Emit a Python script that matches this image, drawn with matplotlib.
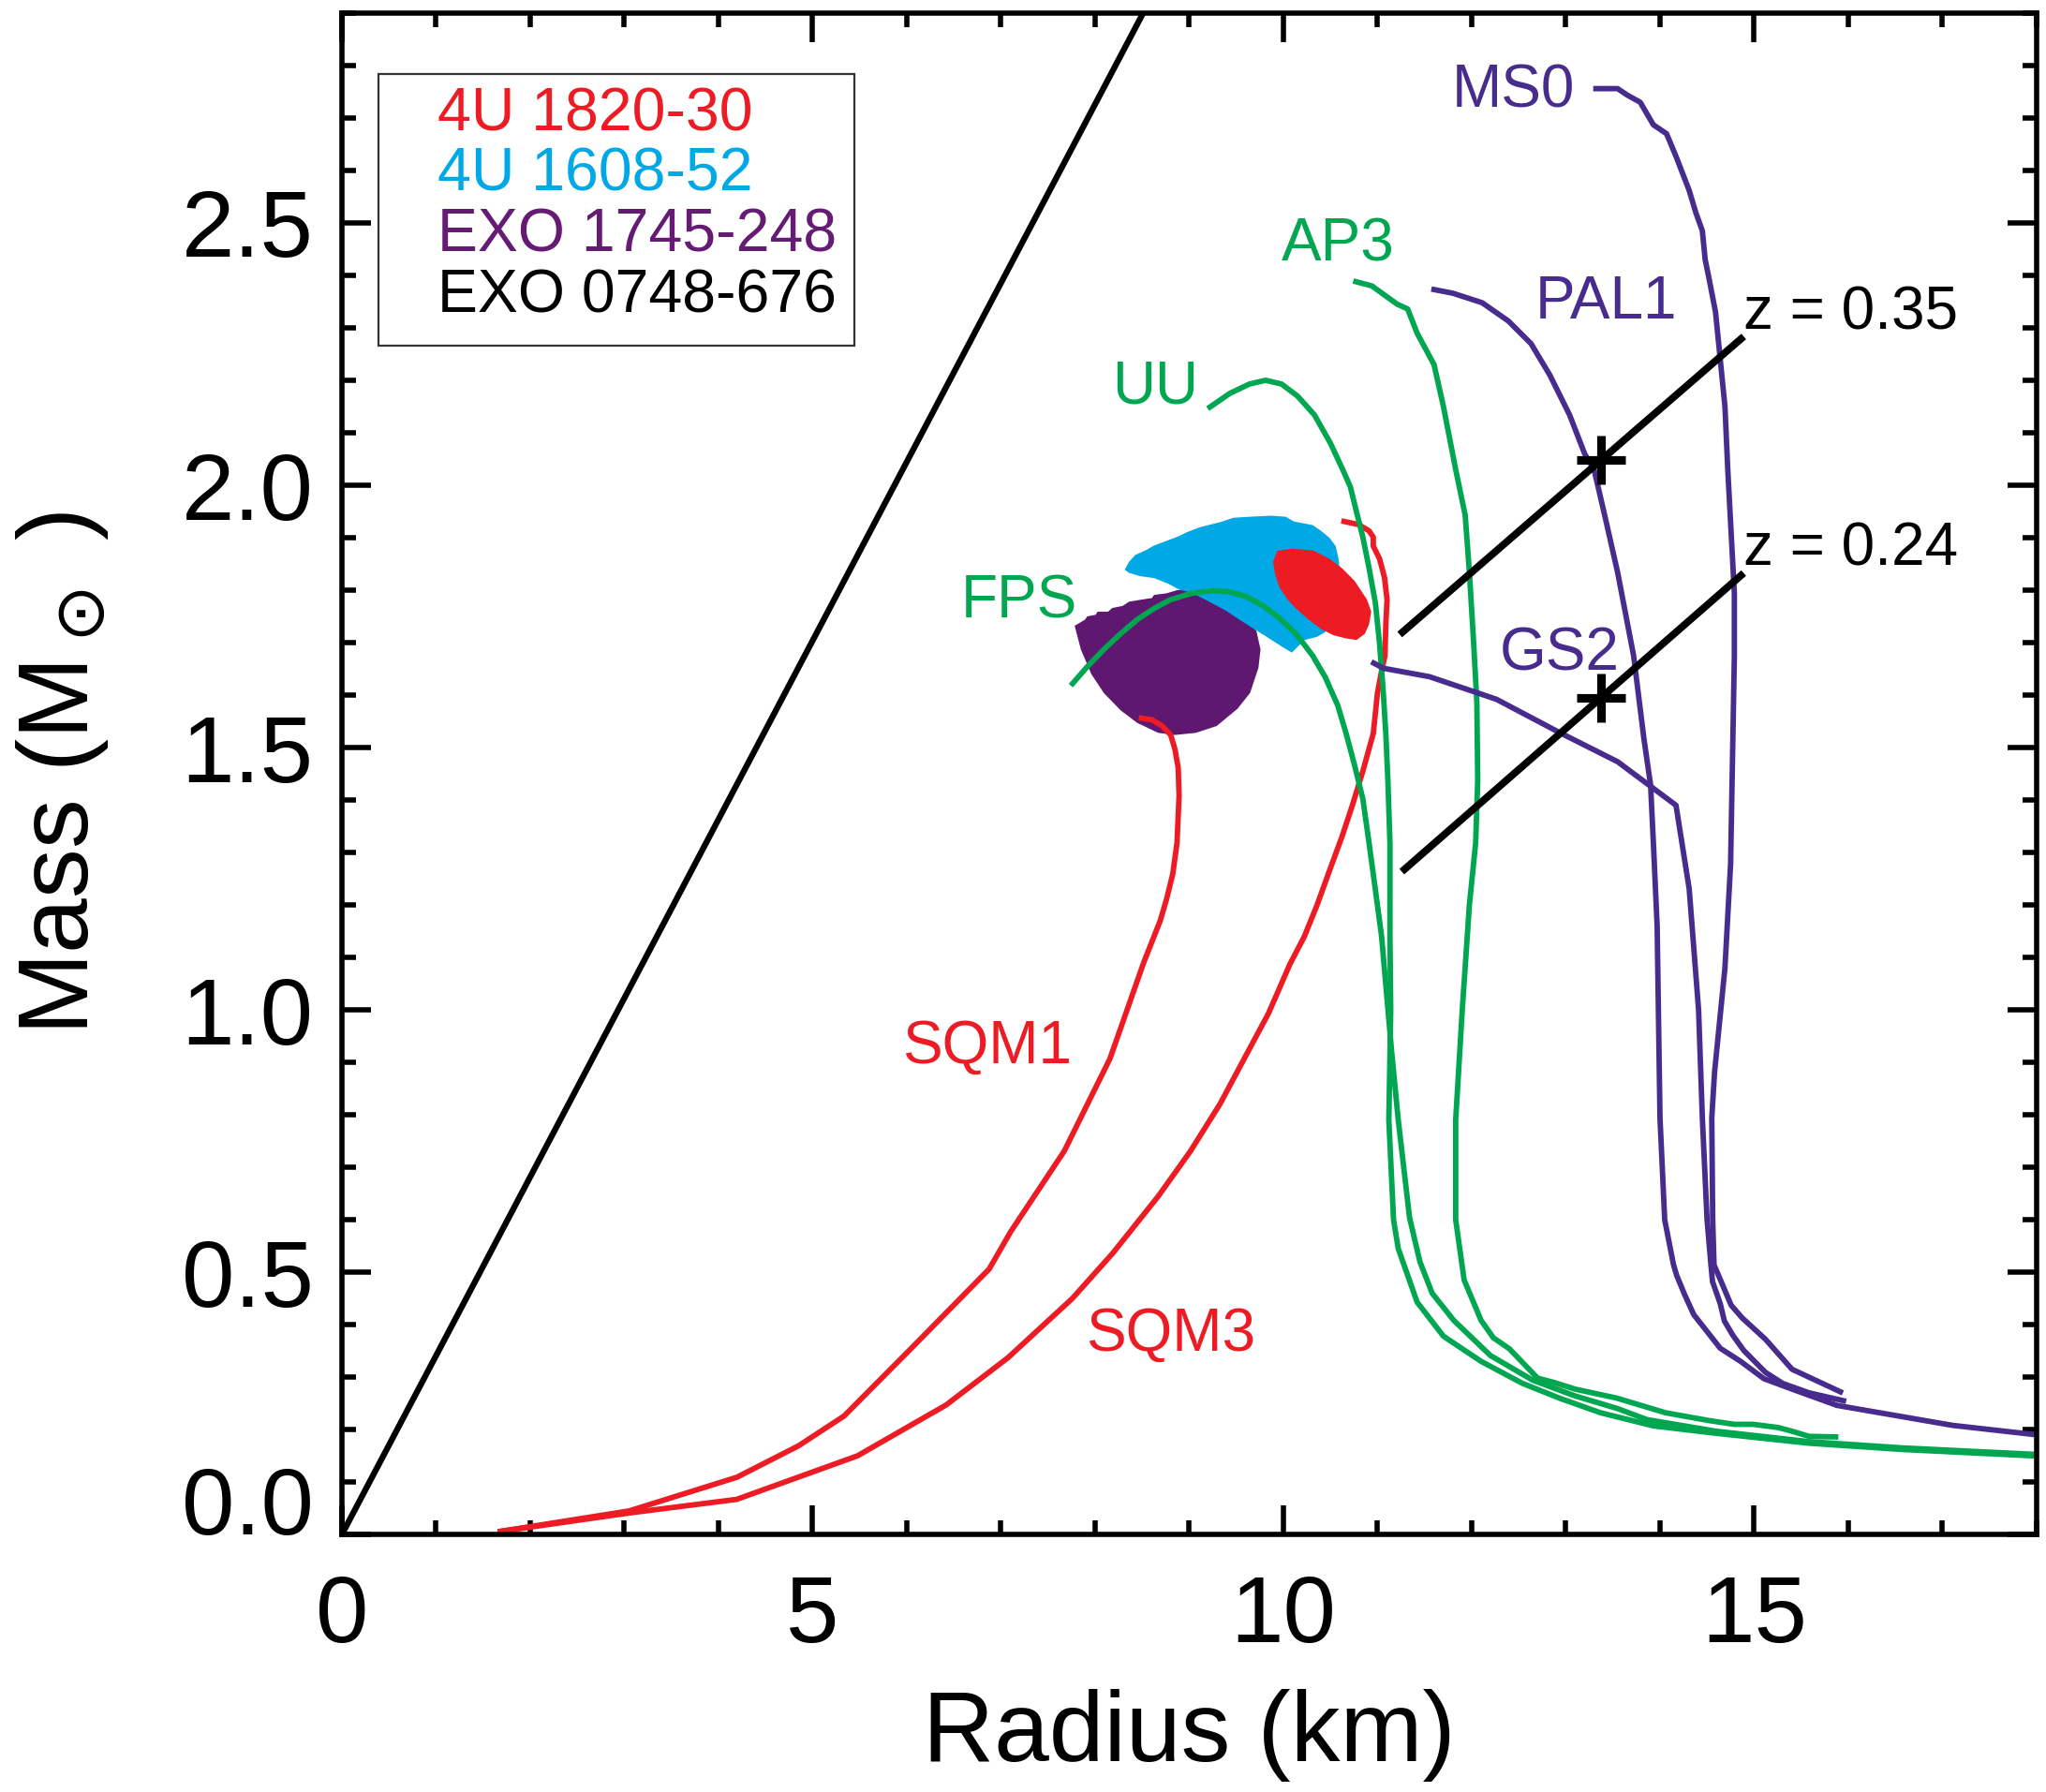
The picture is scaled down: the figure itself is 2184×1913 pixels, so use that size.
import numpy as np
import matplotlib.pyplot as plt
from matplotlib.patches import Polygon, Rectangle

plt.rcParams['font.family'] = ['Liberation Sans', 'DejaVu Sans']
plt.rcParams['mathtext.fontset'] = 'dejavusans'

RED = '#ED1C24'
BLUE = '#00A8E6'
PURPLE = '#5F1870'
INDIGO = '#472C8E'
GREEN = '#00A650'

# black limit line
r_bh = [0.0, 8.51]
m_bh = [0.0, 2.90]

# strange quark matter
r_sqm1 = [1.684, 3.053, 4.194, 4.850, 5.335, 6.076, 6.875, 7.103, 7.673, 8.158, 8.518, 8.626,
          8.692, 8.759, 8.825, 8.870, 8.892, 8.883, 8.848, 8.803, 8.714, 8.604, 8.493]
m_sqm1 = [0.006, 0.045, 0.109, 0.169, 0.226, 0.360, 0.506, 0.577, 0.731, 0.907, 1.091, 1.140,
          1.170, 1.211, 1.259, 1.318, 1.408, 1.461, 1.497, 1.524, 1.541, 1.553, 1.556]
r_sqm3 = [1.684, 3.053, 4.194, 5.477, 6.419, 7.075, 7.759, 8.187, 8.672, 9.014, 9.328, 9.584,
          9.841, 10.069, 10.223, 10.356, 10.489, 10.622, 10.733, 10.844, 10.955, 10.999, 11.043,
          11.079, 11.088, 11.101, 11.074, 11.021, 10.955, 10.955, 10.910, 10.799, 10.644]
m_sqm3 = [0.006, 0.041, 0.067, 0.150, 0.247, 0.337, 0.450, 0.536, 0.645, 0.731, 0.821, 0.907,
          0.993, 1.087, 1.140, 1.199, 1.265, 1.330, 1.390, 1.455, 1.527, 1.604, 1.646,
          1.675, 1.735, 1.782, 1.824, 1.860, 1.884, 1.901, 1.913, 1.925, 1.931]

# nucleonic
r_fps = [7.761, 7.916, 8.093, 8.271, 8.448, 8.626, 8.803, 9.025, 9.247, 9.424, 9.602, 9.779,
         9.956, 10.134, 10.311, 10.445, 10.578, 10.666, 10.755, 10.844, 10.910, 10.977, 11.043,
         11.15, 11.22, 11.34, 11.45, 11.58, 11.81, 12.20, 12.65, 13.10, 13.55, 13.86, 14.59,
         15.58, 16.58, 17.95]
m_fps = [1.622, 1.654, 1.687, 1.717, 1.744, 1.765, 1.782, 1.794, 1.799, 1.797, 1.788, 1.771,
         1.747, 1.717, 1.675, 1.634, 1.580, 1.527, 1.467, 1.402, 1.318, 1.229, 1.140,
         0.920, 0.790, 0.604, 0.520, 0.460, 0.408, 0.341, 0.294, 0.264, 0.240, 0.219, 0.197,
         0.177, 0.165, 0.153]
r_uu = [9.22, 9.43, 9.64, 9.81, 9.98, 10.15, 10.33, 10.50, 10.63, 10.711, 10.777, 10.844,
        10.910, 10.977, 11.021, 11.057, 11.088, 11.110, 11.132, 11.132, 11.14, 11.12, 11.17,
        11.22, 11.42, 11.70, 12.10, 12.54, 12.93, 13.37, 13.93, 14.59, 15.58, 16.58, 17.95]
m_uu = [2.149, 2.175, 2.193, 2.200, 2.193, 2.170, 2.134, 2.080, 2.030, 1.997, 1.949, 1.901,
        1.842, 1.776, 1.699, 1.616, 1.527, 1.437, 1.318, 1.140, 1.000, 0.790, 0.600,
        0.545, 0.443, 0.378, 0.330, 0.288, 0.260, 0.232, 0.207, 0.193, 0.174, 0.162, 0.150]
r_ap3 = [10.77, 10.94, 11.07, 11.21, 11.32, 11.42, 11.60, 11.70, 11.83, 11.931, 11.975, 12.019,
         12.055, 12.064, 12.042, 11.975, 11.953, 11.90, 11.83, 11.83, 11.92, 12.10, 12.23, 12.40,
         12.70, 12.87, 13.10, 13.54, 14.06, 14.525, 14.79, 14.988, 15.253, 15.419, 15.584, 15.866]
m_ap3 = [2.388, 2.380, 2.363, 2.345, 2.336, 2.290, 2.230, 2.150, 2.030, 1.943, 1.836, 1.705,
         1.586, 1.437, 1.318, 1.199, 1.140, 1.000, 0.790, 0.600, 0.485, 0.408, 0.375, 0.354,
         0.298, 0.290, 0.277, 0.260, 0.232, 0.217, 0.210, 0.210, 0.204, 0.196, 0.187, 0.186]

# hyperonic / kaon
r_ms0 = [13.32, 13.55, 13.65, 13.79, 13.93, 14.07, 14.17, 14.31, 14.38, 14.45, 14.48, 14.52,
         14.59, 14.64, 14.69, 14.72, 14.79, 14.79, 14.75, 14.69, 14.58, 14.55, 14.56, 14.574,
         14.657, 14.756, 14.872, 15.121, 15.402, 15.916]
m_ms0 = [2.756, 2.756, 2.744, 2.730, 2.687, 2.670, 2.627, 2.562, 2.520, 2.485, 2.430, 2.395,
         2.330, 2.240, 2.150, 2.030, 1.794, 1.675, 1.278, 1.080, 0.882, 0.794, 0.600, 0.514,
         0.479, 0.437, 0.413, 0.372, 0.315, 0.272]
r_pal1 = [11.60, 11.80, 12.11, 12.39, 12.63, 12.83, 13.04, 13.20, 13.30, 13.42, 13.55, 13.72,
          13.83, 13.90, 13.93, 13.97, 14.00, 14.05, 14.144, 14.177, 14.260, 14.359, 14.491,
          14.640, 14.856, 15.104, 15.419, 15.882, 17.108, 17.95]
m_pal1 = [2.373, 2.366, 2.348, 2.313, 2.270, 2.210, 2.134, 2.060, 2.030, 1.937, 1.834, 1.675,
          1.516, 1.429, 1.318, 1.159, 0.794, 0.600, 0.514, 0.494, 0.458, 0.419, 0.389,
          0.355, 0.330, 0.297, 0.276, 0.246, 0.208, 0.191]
r_gs2 = [10.96, 11.066, 11.553, 12.263, 12.929, 13.55, 14.17, 14.31, 14.41, 14.45, 14.50,
         14.541, 14.558, 14.640, 14.684, 14.773, 14.889, 15.021, 15.121, 15.303, 15.584, 15.949]
m_gs2 = [1.661, 1.651, 1.635, 1.592, 1.529, 1.473, 1.390, 1.231, 1.000, 0.794, 0.600,
         0.514, 0.482, 0.440, 0.407, 0.380, 0.351, 0.327, 0.309, 0.288, 0.270, 0.255]

# constant-redshift segments and crosses
r_z035 = [11.265, 14.86]
m_z035 = [1.720, 2.279]
r_z024 = [11.287, 14.86]
m_z024 = [1.268, 1.828]
r_cross = [13.37, 13.37]
m_cross = [2.048, 1.595]

# source contours
r_exo1745 = [7.783, 7.894, 7.916, 8.005, 8.027, 8.138, 8.182, 8.293, 8.360, 8.493, 8.604, 8.626,
             8.759, 8.870, 8.981, 9.114, 9.291, 9.557, 9.713, 9.757, 9.735, 9.646, 9.513, 9.291,
             9.069, 8.848, 8.670, 8.448, 8.271, 8.093, 7.960, 7.849, 7.805]
m_exo1745 = [1.732, 1.744, 1.750, 1.753, 1.759, 1.759, 1.766, 1.770, 1.778, 1.782, 1.785, 1.791,
             1.794, 1.800, 1.801, 1.794, 1.776, 1.747, 1.723, 1.687, 1.652, 1.604, 1.574, 1.541,
             1.528, 1.524, 1.528, 1.547, 1.571, 1.604, 1.640, 1.687, 1.717]
r_4u1608 = [8.315, 8.360, 8.426, 8.537, 8.626, 8.759, 8.892, 8.981, 9.114, 9.225, 9.336, 9.469,
            9.646, 9.868, 10.023, 10.112, 10.311, 10.400, 10.489, 10.555, 10.586, 10.600, 10.578,
            10.489, 10.445, 10.356, 10.223, 10.090, 9.979, 9.823, 9.690, 9.557, 9.380, 9.202,
            9.025, 8.892, 8.781, 8.626, 8.470, 8.360]
m_4u1608 = [1.839, 1.854, 1.867, 1.876, 1.885, 1.894, 1.903, 1.911, 1.920, 1.925, 1.930, 1.938,
            1.940, 1.942, 1.940, 1.931, 1.924, 1.913, 1.900, 1.884, 1.860, 1.836, 1.806,
            1.747, 1.720, 1.711, 1.705, 1.681, 1.693, 1.711, 1.726, 1.741, 1.762, 1.779,
            1.795, 1.801, 1.812, 1.823, 1.827, 1.833]
r_4u1820 = [9.934, 10.090, 10.311, 10.489, 10.622, 10.755, 10.822, 10.888, 10.933, 10.910, 10.866,
            10.777, 10.666, 10.533, 10.400, 10.267, 10.134, 10.045, 9.956, 9.912, 9.890]
m_4u1820 = [1.875, 1.879, 1.876, 1.860, 1.842, 1.818, 1.800, 1.782, 1.759, 1.735, 1.717,
            1.705, 1.708, 1.714, 1.726, 1.744, 1.765, 1.782, 1.806, 1.830, 1.854]

sources = ['4U 1820-30', '4U 1608-52', 'EXO 1745-248', 'EXO 0748-676']
source_colors = [RED, BLUE, '#651A73', 'black']

curve_names = ['MS0', 'AP3', 'PAL1', 'UU', 'FPS', 'GS2', 'SQM1', 'SQM3', 'z = 0.35', 'z = 0.24']
name_r = [12.44, 10.58, 13.43, 8.64, 7.19, 12.93, 6.85, 8.80, 14.89, 14.89]
name_m = [2.720, 2.428, 2.318, 2.157, 1.748, 1.647, 0.898, 0.351, 2.297, 1.848]
name_colors = [INDIGO, GREEN, INDIGO, GREEN, GREEN, INDIGO, RED, RED, 'black', 'black']
name_ha = ['center'] * 8 + ['left', 'left']

fig = plt.figure(figsize=(10.92, 9.565), dpi=200)
ax = fig.add_axes([0.1671, 0.1437, 0.8283, 0.849])

ax.add_patch(Polygon(np.column_stack([r_exo1745, m_exo1745]), closed=True, fc=PURPLE, ec='none', zorder=1))
ax.add_patch(Polygon(np.column_stack([r_4u1608, m_4u1608]), closed=True, fc=BLUE, ec='none', zorder=1.1))
ax.add_patch(Polygon(np.column_stack([r_4u1820, m_4u1820]), closed=True, fc=RED, ec='none', zorder=1.2))

lw = 2.1
ax.plot(r_bh, m_bh, color='black', lw=2.3)
ax.plot(r_sqm1, m_sqm1, color=RED, lw=lw)
ax.plot(r_sqm3, m_sqm3, color=RED, lw=lw)
ax.plot(r_fps, m_fps, color=GREEN, lw=lw)
ax.plot(r_uu, m_uu, color=GREEN, lw=lw)
ax.plot(r_ap3, m_ap3, color=GREEN, lw=lw)
ax.plot(r_ms0, m_ms0, color=INDIGO, lw=lw)
ax.plot(r_pal1, m_pal1, color=INDIGO, lw=lw)
ax.plot(r_gs2, m_gs2, color=INDIGO, lw=lw)
ax.plot(r_z035, m_z035, color='black', lw=2.8)
ax.plot(r_z024, m_z024, color='black', lw=2.8)
ax.plot(r_cross, m_cross, ls='none', marker='+', ms=19, mew=3.3, color='black')

for name, x, y, c, ha in zip(curve_names, name_r, name_m, name_colors, name_ha):
    ax.text(x, y, name, color=c, fontsize=23, ha=ha, va='baseline')

# legend box with coloured names
ax.add_patch(Rectangle((0.0216, 0.7814), 0.2808, 0.1786, transform=ax.transAxes,
                       fill=False, ec='#333333', lw=0.8, zorder=3))
for i, (s, c) in enumerate(zip(sources, source_colors)):
    ax.text(0.0564, 0.9333 - i * 0.0398, s, color=c, fontsize=23.2,
            transform=ax.transAxes, ha='left', va='center')

ax.set_xlim(0, 18)
ax.set_ylim(0, 2.9)
ax.set_xticks([0, 5, 10, 15])
ax.set_xticks(np.arange(0, 18.1, 1), minor=True)
ax.set_yticks([0.0, 0.5, 1.0, 1.5, 2.0, 2.5])
ax.set_yticks(np.arange(0, 2.91, 0.1), minor=True)
ax.set_yticklabels(['0.0', '0.5', '1.0', '1.5', '2.0', '2.5'])
ax.tick_params(which='both', direction='in', top=True, right=True, width=2, labelsize=36.5)
ax.tick_params(which='major', length=11)
ax.tick_params(which='minor', length=5.5)
ax.tick_params(axis='x', pad=15)
ax.tick_params(axis='y', pad=11)
ax.get_yticklabels()[0].set_va('baseline')
for sp in ax.spines.values():
    sp.set_linewidth(2)

ax.set_xlabel('Radius (km)', fontsize=38, va='center')
ax.set_ylabel(r'Mass (M$_\odot$ )', fontsize=38, va='center')
ax.xaxis.set_label_coords(0.5, -0.132)
ax.yaxis.set_label_coords(-0.165, 0.5)

fig.savefig('out.png', dpi=200)
